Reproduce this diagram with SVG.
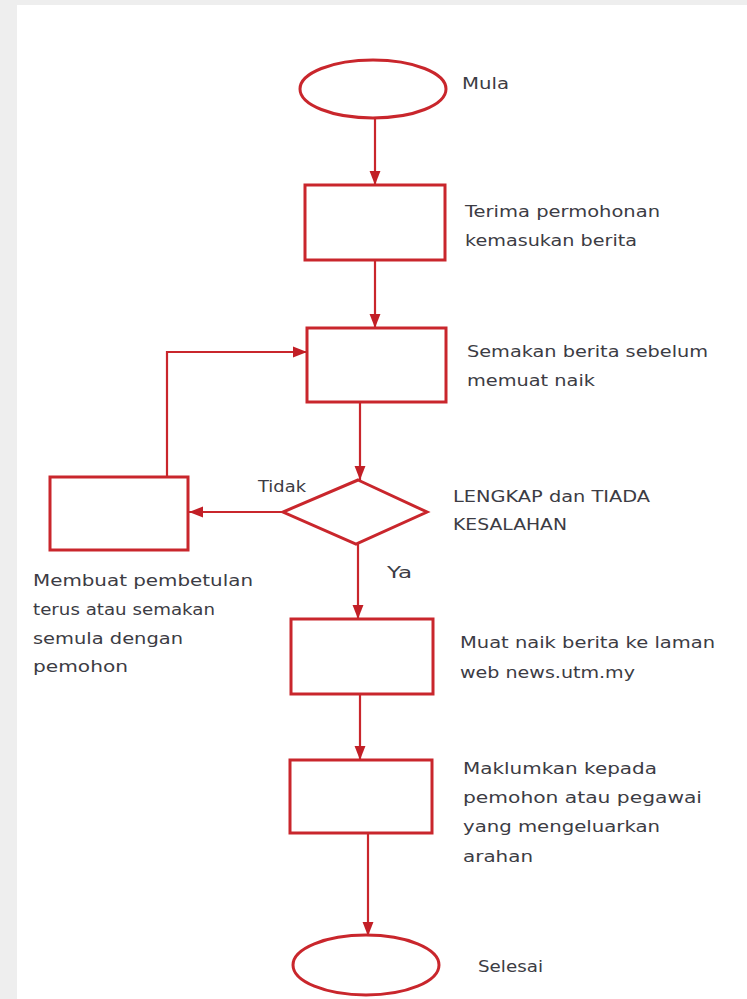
<svg xmlns="http://www.w3.org/2000/svg" width="747" height="999" viewBox="0 0 747 999">
<defs>
<style>
.shape{fill:#ffffff;stroke:#c9262c;stroke-width:3}
.conn{fill:none;stroke:#c9262c;stroke-width:2.2}
.t{font-family:"DejaVu Sans","Liberation Sans",Arial,sans-serif;font-size:15px;fill:#3c3c44}
</style>
<marker id="ah" markerUnits="userSpaceOnUse" markerWidth="14" markerHeight="18" viewBox="0 0 18 14" refX="18" refY="7" orient="auto">
<path d="M0,0 L18,7 L0,14 Z" fill="#c21f26"/>
</marker>
</defs>
<rect x="0" y="0" width="747" height="999" fill="#eeeeee"/>
<rect x="17" y="5" width="730" height="994" fill="#ffffff"/>
<g id="connectors">
<line class="conn" x1="375" y1="118" x2="375" y2="185" marker-end="url(#ah)"/>
<line class="conn" x1="375" y1="260" x2="375" y2="328" marker-end="url(#ah)"/>
<line class="conn" x1="360" y1="402" x2="360" y2="480" marker-end="url(#ah)"/>
<line class="conn" x1="283" y1="512" x2="189" y2="512" marker-end="url(#ah)"/>
<polyline class="conn" points="167,477 167,352 307,352" marker-end="url(#ah)"/>
<line class="conn" x1="358" y1="544" x2="358" y2="619" marker-end="url(#ah)"/>
<line class="conn" x1="360" y1="694" x2="360" y2="760" marker-end="url(#ah)"/>
<line class="conn" x1="368" y1="833" x2="368" y2="936" marker-end="url(#ah)"/>
<text class="t" x="258" y="492" textLength="48" lengthAdjust="spacingAndGlyphs">Tidak</text>
<text class="t" x="387" y="578" textLength="25" lengthAdjust="spacingAndGlyphs">Ya</text>
</g>
<g id="start">
<ellipse class="shape" cx="373" cy="89" rx="73" ry="29"/>
<text class="t" x="462" y="89" textLength="47" lengthAdjust="spacingAndGlyphs">Mula</text>
</g>
<g id="terima">
<rect class="shape" x="305" y="185" width="140" height="75"/>
<text class="t" x="465" y="217" textLength="195" lengthAdjust="spacingAndGlyphs">Terima permohonan</text>
<text class="t" x="465" y="246" textLength="172" lengthAdjust="spacingAndGlyphs">kemasukan berita</text>
</g>
<g id="semakan">
<rect class="shape" x="307" y="328" width="139" height="74"/>
<text class="t" x="467" y="357" textLength="241" lengthAdjust="spacingAndGlyphs">Semakan berita sebelum</text>
<text class="t" x="467" y="386" textLength="128" lengthAdjust="spacingAndGlyphs">memuat naik</text>
</g>
<g id="keputusan">
<polygon class="shape" points="358,480 427,512 356,544 283,512"/>
<text class="t" x="453" y="502" textLength="197" lengthAdjust="spacingAndGlyphs">LENGKAP dan TIADA</text>
<text class="t" x="453" y="530" textLength="114" lengthAdjust="spacingAndGlyphs">KESALAHAN</text>
</g>
<g id="pembetulan">
<rect class="shape" x="50" y="477" width="138" height="73"/>
<text class="t" x="33" y="586" textLength="220" lengthAdjust="spacingAndGlyphs">Membuat pembetulan</text>
<text class="t" x="33" y="615" textLength="182" lengthAdjust="spacingAndGlyphs">terus atau semakan</text>
<text class="t" x="33" y="644" textLength="150" lengthAdjust="spacingAndGlyphs">semula dengan</text>
<text class="t" x="33" y="672" textLength="95" lengthAdjust="spacingAndGlyphs">pemohon</text>
</g>
<g id="muatnaik">
<rect class="shape" x="291" y="619" width="142" height="75"/>
<text class="t" x="460" y="648" textLength="255" lengthAdjust="spacingAndGlyphs">Muat naik berita ke laman</text>
<text class="t" x="460" y="678" textLength="175" lengthAdjust="spacingAndGlyphs">web news.utm.my</text>
</g>
<g id="maklumkan">
<rect class="shape" x="290" y="760" width="142" height="73"/>
<text class="t" x="463" y="774" textLength="194" lengthAdjust="spacingAndGlyphs">Maklumkan kepada</text>
<text class="t" x="463" y="803" textLength="239" lengthAdjust="spacingAndGlyphs">pemohon atau pegawai</text>
<text class="t" x="463" y="832" textLength="197" lengthAdjust="spacingAndGlyphs">yang mengeluarkan</text>
<text class="t" x="463" y="862" textLength="70" lengthAdjust="spacingAndGlyphs">arahan</text>
</g>
<g id="selesai">
<ellipse class="shape" cx="366" cy="965" rx="73" ry="30"/>
<text class="t" x="478" y="972" textLength="65" lengthAdjust="spacingAndGlyphs">Selesai</text>
</g>
</svg>
